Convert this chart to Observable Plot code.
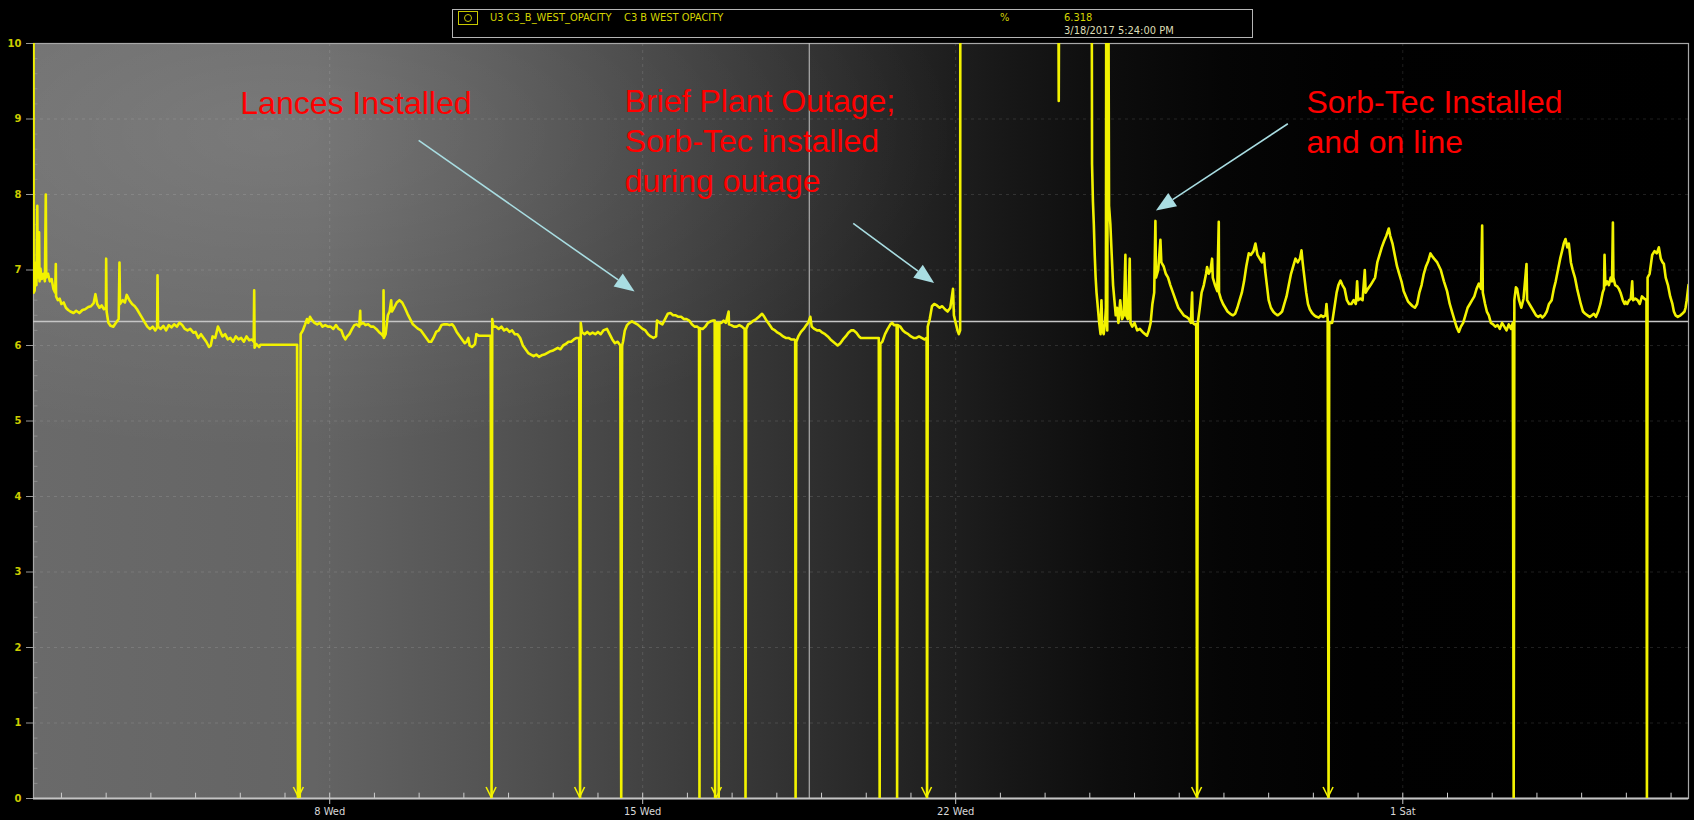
<!DOCTYPE html>
<html>
<head>
<meta charset="utf-8">
<script src="https://cdn.jsdelivr.net/npm/d3@7"></script>
<script src="https://cdn.jsdelivr.net/npm/@observablehq/plot@0.6"></script>
<style>
html, body { margin: 0; padding: 0; background: #000; width: 1694px; height: 820px; overflow: hidden; }
#wrap { position: relative; width: 1694px; height: 820px; }
#chart svg { display: block; }
#legend { position: absolute; left: 452px; top: 9px; width: 799px; height: 27px; border: 1.5px solid #b5b5b5; background: #000;
  font-family: "Liberation Sans Narrow", "DejaVu Sans Condensed", "Open Sans", sans-serif; font-size: 11px; color: #d4d400; }
#legend span { position: absolute; white-space: nowrap; line-height: 12px; }
#legend .box { position: absolute; left: 5px; top: 1px; width: 18px; height: 12px; border: 1px solid #c8c800; }
#legend .box i { position: absolute; left: 5px; top: 2px; width: 6px; height: 6px; border: 1px solid #c8c800; border-radius: 50%; }
svg [aria-label^="y-axis"] text { fill: #cccc00; font-weight: bold; font-family: "DejaVu Sans", sans-serif; font-size: 10px; }
svg [aria-label^="y-axis"] line, svg [aria-label^="y-axis"] path { stroke: #9a9a9a; }
svg [aria-label^="x-axis"] text { fill: #d8d8d8; }
svg [aria-label^="x-axis"] line, svg [aria-label^="x-axis"] path { stroke: #c8c8c8; }
</style>
</head>
<body>
<div id="wrap">
  <div id="chart"></div>
  <div id="legend"></div>
</div>
<script>
// ---------- time helpers (days counted from 2017-03-01 00:00 UTC) ----------
const DAY = 864e5;
const T0 = Date.UTC(2017, 2, 1);
const toDate = d => new Date(T0 + d * DAY);

// ---------- axes / labels ----------
const xDomainDays = [0.375, 37.39];
const xTickDays = [7, 14, 21, 31];
const xTickLabels = ["8 Wed", "15 Wed", "22 Wed", "1 Sat"];
const yTicks = [0, 1, 2, 3, 4, 5, 6, 7, 8, 9, 10];
const yGridValues = [1, 2, 3, 4, 5, 6, 7, 8, 9];

// ---------- pen / cursor ----------
const penTag = "U3 C3_B_WEST_OPACITY";
const penDesc = "C3 B WEST OPACITY";
const penUnit = "%";
const cursorValue = 6.318;
const cursorDay = 17.725;            // 3/18/2017 5:24 PM
const cursorLabel = "3/18/2017 5:24:00 PM";

// ---------- opacity trace, [day, %] (12 = off the top of the scale) ----------
const traceWeek1 = [[0.375,12],[0.378,6.7],[0.39,7.0],[0.40,6.72],[0.42,7.1],[0.44,6.8],[0.46,7.85],[0.47,6.9],[0.49,7.0],[0.50,7.5],[0.51,6.85],[0.53,7.02],[0.56,6.88],[0.6,6.95],[0.63,6.85],[0.65,8.0],[0.66,6.9],[0.7,6.95],[0.74,6.85],[0.78,6.88],[0.82,6.75],[0.86,6.7],[0.874,7.08],[0.88,6.65],[0.92,6.6],[0.96,6.62],[1.0,6.55],[1.05,6.57],[1.1,6.5],[1.15,6.47],[1.2,6.45],[1.27,6.43],[1.33,6.46],[1.4,6.43],[1.47,6.47],[1.53,6.48],[1.6,6.51],[1.66,6.52],[1.72,6.56],[1.76,6.68],[1.8,6.55],[1.85,6.5],[1.9,6.53],[1.95,6.48],[1.995,6.5],[2.0,7.15],[2.01,6.45],[2.05,6.3],[2.1,6.26],[2.16,6.25],[2.22,6.3],[2.28,6.35],[2.298,7.1],[2.31,6.55],[2.37,6.6],[2.42,6.57],[2.46,6.67],[2.52,6.6],[2.58,6.55],[2.64,6.52],[2.69,6.48],[2.75,6.42],[2.82,6.35],[2.87,6.3],[2.92,6.25],[2.98,6.22],[3.04,6.25],[3.1,6.2],[3.14,6.24],[3.149,6.93],[3.16,6.25],[3.22,6.22],[3.28,6.26],[3.34,6.2],[3.4,6.27],[3.46,6.24],[3.52,6.28],[3.58,6.25],[3.64,6.3],[3.7,6.27],[3.76,6.22],[3.82,6.2],[3.88,6.22],[3.95,6.17],[4.0,6.18],[4.06,6.1],[4.12,6.15],[4.18,6.1],[4.24,6.05],[4.3,5.98],[4.34,6.0],[4.38,6.12],[4.44,6.1],[4.5,6.25],[4.54,6.2],[4.6,6.12],[4.66,6.15],[4.72,6.08],[4.78,6.1],[4.84,6.05],[4.9,6.12],[4.96,6.08],[5.02,6.1],[5.08,6.05],[5.14,6.12],[5.2,6.07],[5.26,6.08],[5.3,6.05],[5.311,6.73],[5.32,5.97],[5.36,6.02],[5.42,5.98],[5.45,6.01],[6.27,6.01],[6.29,0],[6.33,0],[6.35,6.15],[6.4,6.2],[6.45,6.28],[6.49,6.35],[6.52,6.3],[6.56,6.38],[6.6,6.34],[6.66,6.3],[6.72,6.28],[6.78,6.3],[6.84,6.25],[6.9,6.27],[6.96,6.25]];

const traceWeek2 = [[7.02,6.25],[7.08,6.22],[7.14,6.27],[7.2,6.22],[7.26,6.2],[7.31,6.12],[7.35,6.08],[7.39,6.12],[7.44,6.15],[7.5,6.22],[7.55,6.27],[7.6,6.28],[7.66,6.25],[7.682,6.46],[7.69,6.28],[7.75,6.3],[7.8,6.27],[7.86,6.28],[7.92,6.25],[7.98,6.25],[8.04,6.22],[8.1,6.18],[8.16,6.15],[8.2,6.12],[8.204,6.73],[8.21,6.1],[8.25,6.15],[8.3,6.4],[8.34,6.45],[8.375,6.6],[8.39,6.45],[8.44,6.5],[8.5,6.57],[8.56,6.6],[8.62,6.57],[8.68,6.5],[8.74,6.42],[8.8,6.35],[8.86,6.28],[8.92,6.25],[8.98,6.22],[9.04,6.2],[9.1,6.15],[9.16,6.1],[9.22,6.05],[9.27,6.05],[9.32,6.1],[9.38,6.18],[9.44,6.2],[9.5,6.27],[9.56,6.28],[9.62,6.28],[9.68,6.27],[9.74,6.28],[9.78,6.25],[9.84,6.18],[9.9,6.13],[9.96,6.08],[10.02,6.03],[10.06,6.05],[10.1,6.1],[10.13,6.0],[10.18,5.98],[10.22,6.0],[10.25,6.02],[10.28,6.15],[10.33,6.13],[10.6,6.13],[10.62,0],[10.635,6.35],[10.66,6.25],[10.72,6.25],[10.78,6.22],[10.84,6.25],[10.9,6.2],[10.96,6.22],[11.02,6.18],[11.08,6.2],[11.14,6.15],[11.2,6.15],[11.26,6.1],[11.32,6.0],[11.38,5.95],[11.44,5.9],[11.5,5.88],[11.56,5.86],[11.62,5.88],[11.68,5.85],[11.74,5.87],[11.8,5.88],[11.86,5.9],[11.92,5.92],[11.98,5.93],[12.04,5.95],[12.1,5.97],[12.16,5.95],[12.22,6.0],[12.28,6.02],[12.34,6.05],[12.4,6.05],[12.46,6.08],[12.52,6.1],[12.58,6.1],[12.6,0],[12.615,6.3],[12.64,6.18],[12.7,6.15],[12.76,6.18],[12.82,6.15],[12.88,6.17],[12.94,6.15],[13.0,6.18],[13.06,6.15],[13.12,6.2],[13.2,6.22],[13.26,6.15],[13.32,6.08],[13.38,6.03],[13.44,6.05],[13.5,6.0],[13.52,0],[13.54,6.0],[13.56,6.05],[13.6,6.2],[13.65,6.27],[13.7,6.3],[13.76,6.32],[13.82,6.3],[13.88,6.28],[13.94,6.25],[14.0,6.22]];

const traceWeek3 = [[14.06,6.2],[14.12,6.15],[14.18,6.12],[14.24,6.1],[14.3,6.12],[14.32,6.33],[14.38,6.3],[14.44,6.28],[14.5,6.35],[14.56,6.42],[14.62,6.43],[14.68,6.4],[14.74,6.4],[14.8,6.38],[14.86,6.38],[14.92,6.35],[14.98,6.35],[15.04,6.33],[15.1,6.28],[15.16,6.25],[15.22,6.25],[15.26,6.23],[15.27,0],[15.28,6.23],[15.34,6.22],[15.4,6.25],[15.46,6.3],[15.52,6.32],[15.58,6.33],[15.61,6.33],[15.62,0],[15.635,6.3],[15.685,6.3],[15.7,0],[15.715,6.3],[15.76,6.3],[15.81,6.33],[15.86,6.3],[15.922,6.45],[15.93,6.28],[15.98,6.27],[16.04,6.25],[16.1,6.25],[16.16,6.27],[16.22,6.25],[16.28,6.22],[16.3,0],[16.315,6.22],[16.36,6.28],[16.42,6.3],[16.48,6.33],[16.54,6.35],[16.6,6.38],[16.67,6.42],[16.72,6.38],[16.78,6.32],[16.84,6.27],[16.9,6.22],[16.96,6.2],[17.02,6.17],[17.08,6.15],[17.14,6.12],[17.2,6.1],[17.26,6.1],[17.32,6.08],[17.38,6.08],[17.41,6.07],[17.42,0],[17.435,6.05],[17.48,6.12],[17.54,6.18],[17.6,6.22],[17.66,6.27],[17.7,6.3],[17.75,6.38],[17.78,6.25],[17.84,6.22],[17.9,6.2],[17.96,6.2],[18.02,6.17],[18.08,6.15],[18.14,6.12],[18.2,6.08],[18.26,6.05],[18.32,6.02],[18.36,6.0],[18.42,6.03],[18.48,6.08],[18.54,6.12],[18.6,6.17],[18.66,6.2],[18.72,6.2],[18.78,6.17],[18.84,6.12],[18.88,6.1],[19.28,6.1],[19.3,0],[19.315,6.02],[19.36,6.05],[19.42,6.15],[19.48,6.22],[19.54,6.28],[19.58,6.3],[19.62,6.27],[19.68,6.27],[19.69,0],[19.705,6.27],[19.76,6.25],[19.82,6.2],[19.88,6.17],[19.94,6.15],[20.0,6.12],[20.06,6.1],[20.12,6.1],[20.18,6.12],[20.24,6.1],[20.3,6.08],[20.35,6.1],[20.36,0],[20.375,6.25],[20.42,6.35],[20.47,6.52],[20.52,6.55],[20.58,6.53],[20.64,6.5],[20.7,6.52],[20.76,6.48],[20.82,6.45],[20.88,6.5],[20.94,6.75],[20.96,6.4],[21.0,6.3],[21.04,6.2],[21.07,6.15],[21.1,6.2]];

const traceOutage = [[21.105,12],[23.29,12],[23.305,9.24],[23.32,12],[24.04,12],[24.05,8.4],[24.07,7.9],[24.09,7.6],[24.11,7.2],[24.13,6.9],[24.15,6.7],[24.18,6.5],[24.21,6.3],[24.24,6.15],[24.26,6.6],[24.28,6.2],[24.31,6.15],[24.34,6.3],[24.36,6.5],[24.37,12],[24.39,6.2],[24.41,12],[24.43,7.85],[24.46,7.6],[24.49,7.2],[24.52,6.8],[24.55,6.6],[24.58,6.4],[24.61,6.5],[24.64,6.3],[24.68,6.6],[24.72,6.35],[24.76,6.4],[24.796,7.2],[24.81,6.4],[24.85,6.35],[24.893,7.15],[24.91,6.3],[24.95,6.25],[25.0,6.3],[25.06,6.2],[25.12,6.22],[25.18,6.18],[25.24,6.15],[25.28,6.13],[25.32,6.2],[25.36,6.3],[25.4,6.55],[25.44,6.7],[25.467,7.65],[25.48,6.9],[25.53,7.0],[25.579,7.4],[25.6,7.1],[25.65,7.05],[25.7,6.95],[25.75,6.9],[25.8,6.8],[25.86,6.7],[25.92,6.6],[25.98,6.5],[26.04,6.45],[26.1,6.4],[26.16,6.38],[26.22,6.35],[26.26,6.3],[26.288,6.7],[26.3,6.3],[26.34,6.28],[26.38,6.28]];

const traceWeek5 = [[26.4,0],[26.415,6.3],[26.46,6.5],[26.5,6.7],[26.55,6.8],[26.6,6.95],[26.623,7.04],[26.66,6.95],[26.7,7.0],[26.735,7.15],[26.75,6.9],[26.8,6.8],[26.85,6.72],[26.884,7.64],[26.89,6.7],[26.93,6.62],[26.98,6.55],[27.03,6.5],[27.08,6.45],[27.14,6.42],[27.2,6.4],[27.25,6.42],[27.3,6.5],[27.35,6.6],[27.4,6.7],[27.45,6.85],[27.5,7.05],[27.555,7.22],[27.6,7.2],[27.66,7.25],[27.704,7.35],[27.75,7.2],[27.8,7.15],[27.85,7.1],[27.891,7.22],[27.92,7.0],[27.96,6.8],[28.0,6.6],[28.05,6.5],[28.1,6.45],[28.15,6.42],[28.2,6.4],[28.25,6.42],[28.3,6.45],[28.35,6.55],[28.4,6.65],[28.45,6.8],[28.5,6.95],[28.55,7.05],[28.6,7.15],[28.65,7.1],[28.7,7.15],[28.734,7.26],[28.76,7.1],[28.8,6.9],[28.84,6.7],[28.88,6.55],[28.92,6.48],[28.97,6.43],[29.02,6.4],[29.07,6.38],[29.12,6.37],[29.17,6.4],[29.22,6.38],[29.27,6.4],[29.293,6.55],[29.32,6.35],[29.34,0],[29.355,6.3],[29.42,6.3],[29.47,6.5],[29.52,6.7],[29.56,6.8],[29.606,6.86],[29.65,6.8],[29.7,6.75],[29.75,6.6],[29.8,6.55],[29.85,6.55],[29.9,6.6],[29.95,6.55],[29.979,6.85],[30.0,6.6],[30.05,6.62],[30.1,6.6],[30.15,7.0],[30.17,6.7],[30.22,6.75],[30.28,6.8],[30.33,6.85],[30.38,6.9],[30.43,7.1],[30.48,7.2],[30.53,7.3],[30.58,7.38],[30.63,7.45],[30.687,7.55],[30.72,7.45],[30.77,7.35],[30.82,7.2],[30.87,7.05],[30.92,6.95],[30.97,6.85],[31.02,6.72],[31.07,6.65],[31.12,6.58],[31.17,6.55],[31.22,6.52],[31.27,6.5],[31.32,6.55],[31.37,6.7],[31.42,6.8],[31.47,6.95],[31.52,7.05],[31.57,7.12],[31.619,7.22],[31.66,7.18],[31.7,7.15],[31.77,7.1],[31.85,7.0],[31.92,6.85]];

const traceWeek6 = [[31.99,6.72],[32.05,6.55],[32.1,6.45],[32.15,6.35],[32.2,6.25],[32.253,6.18],[32.3,6.25],[32.35,6.3],[32.4,6.4],[32.45,6.5],[32.5,6.55],[32.55,6.6],[32.6,6.65],[32.65,6.75],[32.701,6.82],[32.75,6.75],[32.775,7.59],[32.79,6.7],[32.84,6.55],[32.88,6.45],[32.924,6.4],[32.97,6.3],[33.02,6.28],[33.07,6.25],[33.12,6.27],[33.17,6.22],[33.22,6.3],[33.27,6.25],[33.32,6.2],[33.37,6.28],[33.42,6.22],[33.46,6.3],[33.48,0],[33.495,6.6],[33.53,6.77],[33.558,6.75],[33.6,6.6],[33.65,6.5],[33.7,6.62],[33.767,7.08],[33.78,6.6],[33.83,6.55],[33.88,6.5],[33.93,6.45],[33.98,6.4],[34.03,6.38],[34.08,6.4],[34.12,6.37],[34.17,6.4],[34.22,6.45],[34.27,6.55],[34.33,6.6],[34.378,6.75],[34.42,6.85],[34.47,7.0],[34.52,7.15],[34.565,7.26],[34.6,7.35],[34.639,7.41],[34.68,7.3],[34.714,7.35],[34.76,7.1],[34.8,7.0],[34.85,6.9],[34.9,6.75],[34.94,6.65],[34.98,6.55],[35.03,6.45],[35.08,6.42],[35.13,6.4],[35.18,6.38],[35.23,6.4],[35.273,6.42],[35.32,6.38],[35.37,6.45],[35.42,6.55],[35.47,6.7],[35.5,6.75],[35.512,7.2],[35.53,6.8],[35.57,6.85],[35.609,6.8],[35.65,6.9],[35.68,6.85],[35.699,7.63],[35.71,6.9],[35.75,6.8],[35.8,6.78],[35.833,6.75],[35.87,6.7],[35.92,6.6],[35.96,6.55],[35.982,6.58],[36.02,6.55],[36.06,6.6],[36.1,6.62],[36.131,6.85],[36.15,6.6],[36.2,6.62],[36.25,6.6],[36.3,6.55],[36.35,6.65],[36.4,6.62],[36.45,6.6],[36.46,0],[36.475,6.9],[36.52,6.95],[36.578,7.2],[36.63,7.25],[36.68,7.22],[36.727,7.3],[36.77,7.15],[36.81,7.1],[36.839,7.08],[36.88,6.9],[36.93,6.8],[36.98,6.65],[37.03,6.55],[37.063,6.45],[37.1,6.4],[37.15,6.38],[37.212,6.4],[37.25,6.42],[37.3,6.45],[37.324,6.5],[37.35,6.6],[37.39,6.8]];

// dropouts flagged with a down-arrow at the axis
const arrowDays = [6.31, 10.62, 12.6, 15.66, 20.36, 26.4, 29.34];

// ---------- annotations (position in data coordinates) ----------
const notes = [
  {day: 5.0, value: 9.23, text: "Lances Installed"},
  {day: 13.6, value: 8.73, text: "Brief Plant Outage;\nSorb-Tec installed\nduring outage"},
  {day: 28.845, value: 8.98, text: "Sorb-Tec Installed\nand on line"}
];
const pointers = [
  {from: [9.0, 8.71], to: [13.83, 6.71]},
  {from: [18.72, 7.61], to: [20.53, 6.82]},
  {from: [28.44, 8.93], to: [25.49, 7.78]}
];

// ---------- colours ----------
const traceColor = "#f2f200";
const noteColor = "#ff0000";
const pointerColor = "#a9dde2";
const bgStops = [[0,"#6a6a6a"],[0.17,"#646464"],[0.28,"#535353"],[0.36,"#444444"],[0.46,"#313131"],[0.53,"#232323"],[0.59,"#171717"],[0.65,"#0d0d0d"],[0.72,"#050505"],[0.8,"#010101"],[1,"#000000"]];

// ---------- build ----------
const trace = [...traceWeek1, ...traceWeek2, ...traceWeek3, ...traceOutage, ...traceWeek5, ...traceWeek6]
  .map(([d, v]) => ({date: toDate(d), value: v}));
const labelByTime = new Map(xTickDays.map((d, i) => [+toDate(d), xTickLabels[i]]));
const dailyTicks = d3.range(1, 38).map(toDate);
const minorY = d3.range(0, 50).filter(i => i % 5 !== 0).map(i => i / 5);

function background(index, scales, values, dims) {
  const {width, height, marginLeft: ml, marginTop: mt, marginRight: mr, marginBottom: mb} = dims;
  const g = d3.create("svg:g");
  const defs = g.append("defs");
  const lg = defs.append("linearGradient").attr("id", "bgLin").attr("x1", 0).attr("x2", 1).attr("y1", 0).attr("y2", 0);
  bgStops.forEach(([o, c]) => lg.append("stop").attr("offset", o).attr("stop-color", c));
  const rg = defs.append("radialGradient").attr("id", "bgGlow").attr("cx", 0.14).attr("cy", 0.12).attr("r", 0.42);
  rg.append("stop").attr("offset", 0).attr("stop-color", "#fff").attr("stop-opacity", 0.13);
  rg.append("stop").attr("offset", 0.6).attr("stop-color", "#fff").attr("stop-opacity", 0.05);
  rg.append("stop").attr("offset", 1).attr("stop-color", "#fff").attr("stop-opacity", 0);
  g.append("rect").attr("x", ml).attr("y", mt).attr("width", width - ml - mr).attr("height", height - mt - mb).attr("fill", "url(#bgLin)");
  g.append("rect").attr("x", ml).attr("y", mt).attr("width", width - ml - mr).attr("height", height - mt - mb).attr("fill", "url(#bgGlow)");
  return g.node();
}

function overlays(index, scales) {
  const g = d3.create("svg:g");
  for (const p of pointers) {
    const x1 = scales.x(toDate(p.from[0])), y1 = scales.y(p.from[1]);
    const x2 = scales.x(toDate(p.to[0])), y2 = scales.y(p.to[1]);
    const a = Math.atan2(y2 - y1, x2 - x1), L = 20, W = 8;
    const bx = x2 - L * Math.cos(a), by = y2 - L * Math.sin(a);
    g.append("line").attr("x1", x1).attr("y1", y1).attr("x2", bx).attr("y2", by)
      .attr("stroke", pointerColor).attr("stroke-width", 1.6);
    g.append("polygon").attr("fill", pointerColor)
      .attr("points", [[x2, y2], [bx + W * Math.sin(a), by - W * Math.cos(a)], [bx - W * Math.sin(a), by + W * Math.cos(a)]].map(p => p.join(",")).join(" "));
  }
  for (const d of arrowDays) {
    const x = scales.x(toDate(d)), y = scales.y(0);
    g.append("path").attr("d", `M${x - 5},${y - 11}L${x},${y - 1}L${x + 5},${y - 11}`)
      .attr("fill", "none").attr("stroke", traceColor).attr("stroke-width", 1.6);
  }
  return g.node();
}

const chart = Plot.plot({
  width: 1694,
  height: 820,
  marginTop: 43,
  marginBottom: 22,
  marginLeft: 33,
  marginRight: 6,
  style: {background: "transparent", color: "#ddd", fontSize: "11px",
          fontFamily: "'Liberation Sans Narrow','DejaVu Sans Condensed','Open Sans',sans-serif", overflow: "visible"},
  x: {type: "utc", domain: xDomainDays.map(toDate), ticks: xTickDays.map(toDate),
      tickFormat: d => labelByTime.get(+d) ?? "", tickSize: 6, tickPadding: 3, label: null},
  y: {domain: [0, 10], ticks: yTicks, tickFormat: d => String(d), tickSize: 7, tickPadding: 5, label: null},
  marks: [
    background,
    Plot.ruleY(yGridValues, {stroke: "#ffffff", strokeOpacity: 0.12, strokeDasharray: "3,4"}),
    Plot.ruleX(xTickDays.map(toDate), {stroke: "#ffffff", strokeOpacity: 0.12, strokeDasharray: "3,4"}),
    Plot.ruleY(minorY, {x1: toDate(xDomainDays[0]), x2: toDate(xDomainDays[0] + 0.1), stroke: "#8a8a8a", strokeWidth: 1}),
    Plot.ruleX(dailyTicks, {y1: 0, y2: 0.07, stroke: "#cfcfcf", strokeWidth: 1}),
    Plot.frame({stroke: "#a8a8a8", strokeWidth: 1.2}),
    Plot.ruleY([0], {stroke: "#c4c4c4", strokeWidth: 2}),
    Plot.ruleY([cursorValue], {stroke: "#c6c6c6", strokeWidth: 1.5}),
    Plot.ruleX([toDate(cursorDay)], {stroke: "#c6c6c6", strokeWidth: 1}),
    Plot.line(trace, {x: "date", y: "value", stroke: traceColor, strokeWidth: 2.6, clip: true}),
    overlays,
    Plot.text(notes, {x: d => toDate(d.day), y: "value", text: "text", fill: noteColor, fontSize: 32,
      fontFamily: "'Liberation Sans', Arial, sans-serif", textAnchor: "start", lineAnchor: "middle", lineHeight: 1.24})
  ]
});
document.getElementById("chart").appendChild(chart);

// ---------- legend box ----------
const legend = document.getElementById("legend");
legend.innerHTML =
  `<div class="box"><i></i></div>` +
  `<span style="left:37px;top:2px">${penTag}</span>` +
  `<span style="left:171px;top:2px">${penDesc}</span>` +
  `<span style="left:547px;top:2px">${penUnit}</span>` +
  `<span style="left:611px;top:2px">${cursorValue.toFixed(3)}</span>` +
  `<span style="left:611px;top:15px;color:#dcdcb4">${cursorLabel}</span>`;
</script>
</body>
</html>
